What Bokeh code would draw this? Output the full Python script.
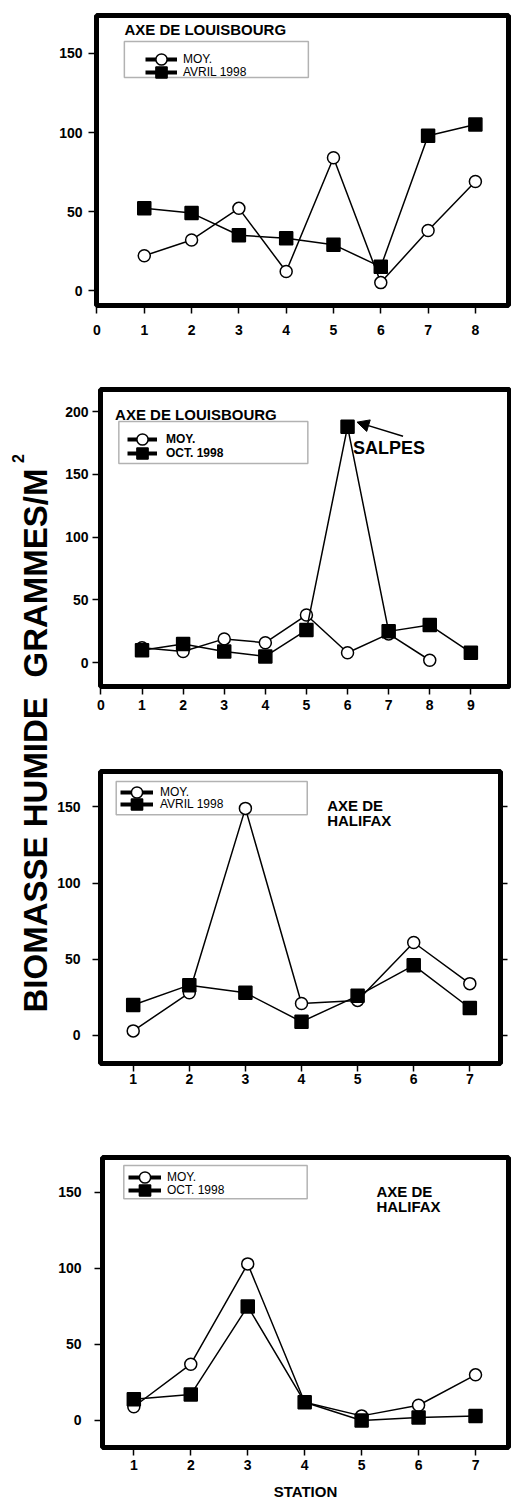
import math

from bokeh.embed import file_html
from bokeh.layouts import column, row
from bokeh.models import (Arrow, BoxAnnotation, ColumnDataSource, FixedTicker,
                          Label, Legend, LegendItem, LinearAxis, NormalHead, Range1d)
from bokeh.plotting import figure
from bokeh.resources import INLINE

FONT = "Liberation Sans"

# Axe de Louisbourg, avril 1998
lou_avr_station = [1, 2, 3, 4, 5, 6, 7, 8]
lou_avr_moy = [22, 32, 52, 12, 84, 5, 38, 69]
lou_avr_1998 = [52, 49, 35, 33, 29, 15, 98, 105]

# Axe de Louisbourg, octobre 1998
lou_oct_station_moy = [1, 2, 3, 4, 5, 6, 7, 8]
lou_oct_moy = [12, 9, 19, 16, 38, 8, 23, 2]
lou_oct_station = [1, 2, 3, 4, 5, 6, 7, 8, 9]
lou_oct_1998 = [10, 15, 9, 5, 26, 188, 25, 30, 8]

# Axe de Halifax, avril et octobre 1998
hal_station = [1, 2, 3, 4, 5, 6, 7]
hal_avr_moy = [3, 28, 149, 21, 23, 61, 34]
hal_avr_1998 = [20, 33, 28, 9, 26, 46, 18]
hal_oct_moy = [9, 37, 103, 12, 3, 10, 30]
hal_oct_1998 = [14, 17, 75, 12, 0, 2, 3]

y_ticks_150 = [0, 50, 100, 150]
y_ticks_200 = [0, 50, 100, 150, 200]
x_ticks_lou_avr = [0, 1, 2, 3, 4, 5, 6, 7, 8]
x_ticks_lou_oct = [0, 1, 2, 3, 4, 5, 6, 7, 8, 9]
x_ticks_hal = [1, 2, 3, 4, 5, 6, 7]

lbl_moy = "MOY."
lbl_avr = "AVRIL 1998"
lbl_oct = "OCT. 1998"
salpes_station = 6


def panel(height, borders, x_range, y_range, x_ticks, y_ticks, x_standoff, y_standoff):
    left, right, top, bottom = borders
    p = figure(width=461, height=height,
               x_range=Range1d(*x_range), y_range=Range1d(*y_range),
               output_backend="svg", toolbar_location=None,
               min_border_left=left, min_border_right=right,
               min_border_top=top, min_border_bottom=bottom,
               background_fill_color="white", border_fill_color="white")
    p.frame_align = False
    p.grid.visible = False
    p.outline_line_color = "black"
    p.outline_line_width = 5
    p.outline_line_alpha = 1
    for ax, ticks, standoff in ((p.xaxis[0], x_ticks, x_standoff),
                                (p.yaxis[0], y_ticks, y_standoff)):
        ax.ticker = FixedTicker(ticks=ticks)
        ax.axis_line_color = None
        ax.major_tick_line_color = "black"
        ax.major_tick_line_width = 1.5
        ax.major_tick_in = 0
        ax.major_tick_out = 8
        ax.minor_tick_line_color = None
        ax.major_label_standoff = standoff
        ax.major_label_text_font = FONT
        ax.major_label_text_font_style = "bold"
        ax.major_label_text_font_size = "14px"
        ax.major_label_text_color = "black"
    return p


def series(p, xs, ys, marker, fill, size):
    src = ColumnDataSource(dict(station=xs, biomasse=ys))
    p.line("station", "biomasse", source=src, line_color="black", line_width=1.5)
    # heavier line used only for the legend sample
    key = p.line("station", "biomasse", source=src, line_color="black", line_width=4,
                 visible=False)
    mk = p.scatter("station", "biomasse", source=src, marker=marker, size=size,
                   fill_color=fill, line_color="black", line_width=1.5)
    return [key, mk]


def legend_entry(p, label, renderers, vx, vy, glyph_w, standoff, bold):
    leg = Legend(items=[LegendItem(label=label, renderers=renderers)],
                 location=(vx, vy), padding=0, spacing=0, margin=0,
                 glyph_width=glyph_w, glyph_height=28, label_standoff=standoff,
                 label_text_font=FONT, label_text_font_size="12px",
                 label_text_font_style="bold" if bold else "normal",
                 label_text_color="black",
                 background_fill_alpha=0, border_line_alpha=0)
    p.add_layout(leg)


def legend_box(p, left, right, top, bottom):
    p.add_layout(BoxAnnotation(left=left, right=right, top=top, bottom=bottom,
                               fill_color="white", fill_alpha=1,
                               line_color="black", line_width=1.5, level="underlay"))


def text(p, x, y, s, size, bold=True):
    p.add_layout(Label(x=x, y=y, text=s, text_font=FONT, text_font_size=size,
                       text_font_style="bold" if bold else "normal",
                       text_color="black", text_align="left", text_baseline="middle"))


# Panel 1: Louisbourg, avril
p1 = panel(340, (46, 3, 15, 35), (-0.01, 8.70), (-9.49, 174.05),
           x_ticks_lou_avr, y_ticks_150, 11, 6)
c1 = series(p1, lou_avr_station, lou_avr_moy, "circle", "white", 12)
s1 = series(p1, lou_avr_station, lou_avr_1998, "square", "black", 13)
legend_box(p1, 0.579, 4.469, 157.6, 134.8)
legend_entry(p1, lbl_moy, c1, 49, 232, 32, 6, False)
legend_entry(p1, lbl_avr, s1, 49, 219, 32, 6, False)
text(p1, 0.58, 164.9, "AXE DE LOUISBOURG", "15px")

# Panel 2: Louisbourg, octobre
p2 = panel(385, (50, 2, 49, 39), (-0.01, 9.94), (-18.9, 217.6),
           x_ticks_lou_oct, y_ticks_200, 5, 4)
c2 = series(p2, lou_oct_station_moy, lou_oct_moy, "circle", "white", 12)
s2 = series(p2, lou_oct_station, lou_oct_1998, "square", "black", 13)
legend_box(p2, 0.436, 5.034, 192.1, 158.7)
legend_entry(p2, lbl_moy, c2, 27, 233, 30, 9, True)
legend_entry(p2, lbl_oct, s2, 27, 219, 30, 9, True)
text(p2, 0.345, 197.9, "AXE DE LOUISBOURG", "15px")
salpes_value = lou_oct_1998[lou_oct_station.index(salpes_station)]
p2.add_layout(Arrow(end=NormalHead(size=12, fill_color="black", line_color="black", line_width=1),
                    x_start=salpes_station + 1.35, y_start=salpes_value - 7.6,
                    x_end=salpes_station + 0.23, y_end=salpes_value + 3.6,
                    line_color="black", line_width=1.5))
text(p2, salpes_station + 0.13, salpes_value - 16.6, "SALPES", "18px")

# Panel 3: Halifax, avril
p3 = panel(375, (50, 11, 46, 37), (0.417, 7.547), (-18.4, 173.2),
           x_ticks_hal, y_ticks_150, 2, 12)
right_axis = LinearAxis(ticker=FixedTicker(ticks=y_ticks_150), major_tick_out=7,
                        major_tick_in=0, major_tick_line_width=1.5,
                        axis_line_color=None, minor_tick_line_color=None,
                        major_label_overrides={t: "" for t in y_ticks_150},
                        major_label_standoff=0)
p3.add_layout(right_axis, "right")
c3 = series(p3, hal_station, hal_avr_moy, "circle", "white", 12)
s3 = series(p3, hal_station, hal_avr_1998, "square", "black", 13)
legend_box(p3, 0.697, 4.102, 166.7, 144.8)
legend_entry(p3, lbl_moy, c3, 20, 257, 33, 7, False)
legend_entry(p3, lbl_avr, s3, 20, 245, 33, 7, False)
text(p3, 4.458, 150.9, "AXE DE", "15px")
text(p3, 4.458, 141.3, "HALIFAX", "15px")

# Panel 4: Halifax, octobre
p4 = panel(403, (52, 3, 57, 56), (0.45, 7.579), (-17.8, 173.0),
           x_ticks_hal, y_ticks_150, 4, 13)
p4.xaxis.axis_label = "STATION"
p4.xaxis.axis_label_text_font = FONT
p4.xaxis.axis_label_text_font_style = "bold"
p4.xaxis.axis_label_text_font_size = "15px"
p4.xaxis.axis_label_text_color = "black"
p4.xaxis.axis_label_standoff = 10
c4 = series(p4, hal_station, hal_oct_moy, "circle", "white", 12)
s4 = series(p4, hal_station, hal_oct_1998, "square", "black", 13)
legend_box(p4, 0.824, 4.044, 167.8, 145.9)
legend_entry(p4, lbl_moy, c4, 26, 256, 33, 6, False)
legend_entry(p4, lbl_oct, s4, 26, 243, 33, 6, False)
text(p4, 5.26, 150.7, "AXE DE", "15px")
text(p4, 5.26, 141.0, "HALIFAX", "15px")

# Shared vertical title
side = figure(width=50, height=1503, x_range=Range1d(0, 50), y_range=Range1d(0, 1503),
              output_backend="svg", toolbar_location=None,
              x_axis_type=None, y_axis_type=None, min_border=0,
              background_fill_color="white", border_fill_color="white")
side.frame_align = False
side.grid.visible = False
side.outline_line_color = None
for s, y in (("BIOMASSE HUMIDE", 1503 - 854.3), ("GRAMMES/M", 1503 - 572.5)):
    side.add_layout(Label(x=35.3, y=y, text=s, angle=math.pi / 2,
                          text_align="center", text_baseline="middle",
                          text_font=FONT, text_font_style="bold",
                          text_font_size="33px", text_color="black"))
side.add_layout(Label(x=17.5, y=1503 - 458, text="2", angle=math.pi / 2,
                      text_align="center", text_baseline="middle",
                      text_font=FONT, text_font_style="bold",
                      text_font_size="16px", text_color="black"))

layout = row(side, column(p1, p2, p3, p4))
open("out.html", "w").write(file_html(layout, INLINE))
